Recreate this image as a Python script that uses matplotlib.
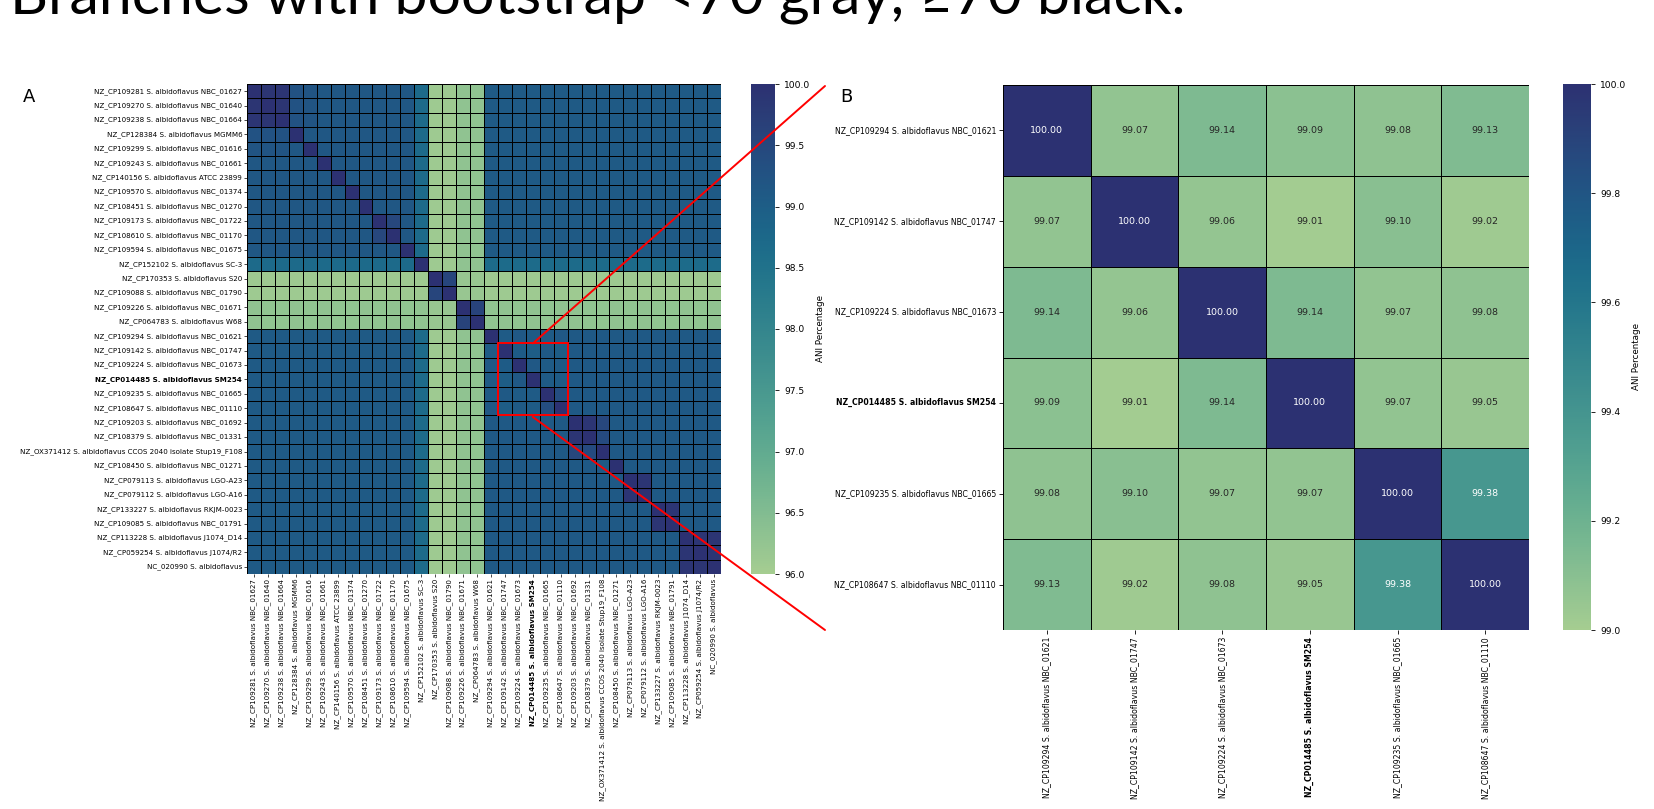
import numpy as np
import matplotlib
matplotlib.use("Agg")
import matplotlib.pyplot as plt
import seaborn as sns
from matplotlib.patches import Rectangle, ConnectionPatch

# strains in tree order (rows and columns of panel A)
strains = [
    "NZ_CP109281 S. albidoflavus NBC_01627",
    "NZ_CP109270 S. albidoflavus NBC_01640",
    "NZ_CP109238 S. albidoflavus NBC_01664",
    "NZ_CP128384 S. albidoflavus MGMM6",
    "NZ_CP109299 S. albidoflavus NBC_01616",
    "NZ_CP109243 S. albidoflavus NBC_01661",
    "NZ_CP140156 S. albidoflavus ATCC 23899",
    "NZ_CP109570 S. albidoflavus NBC_01374",
    "NZ_CP108451 S. albidoflavus NBC_01270",
    "NZ_CP109173 S. albidoflavus NBC_01722",
    "NZ_CP108610 S. albidoflavus NBC_01170",
    "NZ_CP109594 S. albidoflavus NBC_01675",
    "NZ_CP152102 S. albidoflavus SC-3",
    "NZ_CP170353 S. albidoflavus S20",
    "NZ_CP109088 S. albidoflavus NBC_01790",
    "NZ_CP109226 S. albidoflavus NBC_01671",
    "NZ_CP064783 S. albidoflavus W68",
    "NZ_CP109294 S. albidoflavus NBC_01621",
    "NZ_CP109142 S. albidoflavus NBC_01747",
    "NZ_CP109224 S. albidoflavus NBC_01673",
    "NZ_CP014485 S. albidoflavus SM254",
    "NZ_CP109235 S. albidoflavus NBC_01665",
    "NZ_CP108647 S. albidoflavus NBC_01110",
    "NZ_CP109203 S. albidoflavus NBC_01692",
    "NZ_CP108379 S. albidoflavus NBC_01331",
    "NZ_OX371412 S. albidoflavus CCOS 2040 isolate Stup19_F108",
    "NZ_CP108450 S. albidoflavus NBC_01271",
    "NZ_CP079113 S. albidoflavus LGO-A23",
    "NZ_CP079112 S. albidoflavus LGO-A16",
    "NZ_CP133227 S. albidoflavus RKJM-0023",
    "NZ_CP109085 S. albidoflavus NBC_01791",
    "NZ_CP113228 S. albidoflavus J1074_D14",
    "NZ_CP059254 S. albidoflavus J1074/R2",
    "NC_020990 S. albidoflavus",
]
reference = "NZ_CP014485 S. albidoflavus SM254"

# clade of every strain, same order
clades = ["A"] * 12 + ["C", "D", "D", "E", "E"] + ["B"] * 17

# typical ANI between / within clades
clade_ani = {
    ("A", "A"): 99.15, ("B", "B"): 99.10, ("C", "C"): 100.0,
    ("D", "D"): 99.55, ("E", "E"): 99.60,
    ("A", "B"): 99.08, ("A", "C"): 98.70, ("B", "C"): 98.68,
    ("A", "D"): 96.10, ("B", "D"): 96.10, ("C", "D"): 96.10,
    ("A", "E"): 96.30, ("B", "E"): 96.30, ("C", "E"): 96.30,
    ("D", "E"): 96.20,
}

# closely related pairs (row index, column index, ANI)
close_pairs = [
    (0, 1, 99.92), (0, 2, 99.90), (1, 2, 99.92),
    (3, 0, 99.25), (3, 1, 99.25), (3, 2, 99.25),
    (4, 0, 99.22), (4, 1, 99.22), (4, 2, 99.22),
    (9, 10, 99.50),
    (23, 24, 99.90), (23, 25, 99.50), (24, 25, 99.45),
    (27, 28, 99.90), (29, 30, 99.90),
    (31, 32, 99.90), (31, 33, 99.90), (32, 33, 99.90),
]

# zoomed block (panel B)
subset_start = 17
subset_ani = [
    [100.00, 99.07, 99.14, 99.09, 99.08, 99.13],
    [99.07, 100.00, 99.06, 99.01, 99.10, 99.02],
    [99.14, 99.06, 100.00, 99.14, 99.07, 99.08],
    [99.09, 99.01, 99.14, 100.00, 99.07, 99.05],
    [99.08, 99.10, 99.07, 99.07, 100.00, 99.38],
    [99.13, 99.02, 99.08, 99.05, 99.38, 100.00],
]

# assemble the full matrix
n = len(strains)
ani = np.zeros((n, n))
for i in range(n):
    for j in range(n):
        ani[i, j] = clade_ani[tuple(sorted((clades[i], clades[j])))]
for i, j, v in close_pairs:
    ani[i, j] = ani[j, i] = v
k = len(subset_ani)
ani[subset_start:subset_start + k, subset_start:subset_start + k] = subset_ani
np.fill_diagonal(ani, 100.0)
subset = strains[subset_start:subset_start + k]

W, H = 1654, 809
fig = plt.figure(figsize=(W / 100, H / 100), dpi=100)


def px_axes(x0, y0, x1, y1):
    return fig.add_axes([x0 / W, 1 - y1 / H, (x1 - x0) / W, (y1 - y0) / H])


axA = px_axes(247, 84, 721, 574)
caxA = px_axes(751, 84, 775, 574)
axB = px_axes(1003, 85, 1529, 630)
caxB = px_axes(1563, 84, 1591, 630)

sns.heatmap(ani, ax=axA, cbar_ax=caxA, cmap="crest", vmin=96, vmax=100,
            linewidths=0.7, linecolor="black",
            xticklabels=strains, yticklabels=strains,
            cbar_kws={"label": "ANI Percentage"})
axA.tick_params(labelsize=5.1, length=2, width=0.5, pad=1.5)
axA.set_xticklabels(strains, rotation=90)
axA.set_yticklabels(strains, rotation=0)

sns.heatmap(np.array(subset_ani), ax=axB, cbar_ax=caxB, cmap="crest",
            vmin=99, vmax=100, annot=True, fmt=".2f",
            annot_kws={"fontsize": 6.8},
            linewidths=0.6, linecolor="black",
            xticklabels=subset, yticklabels=subset,
            cbar_kws={"label": "ANI Percentage"})
axB.tick_params(labelsize=5.55, length=3, width=0.6, pad=2)
axB.set_xticklabels(subset, rotation=90)
axB.set_yticklabels(subset, rotation=0)

for ax in (axA, axB):
    for lab in ax.get_xticklabels() + ax.get_yticklabels():
        if lab.get_text() == reference:
            lab.set_fontweight("bold")

for cax in (caxA, caxB):
    cax.tick_params(labelsize=6.6, length=3, width=0.6)
    cax.yaxis.label.set_size(6.3)
caxB.set_yticks([99.0, 99.2, 99.4, 99.6, 99.8, 100.0])
caxB.set_yticklabels(["99.0", "99.2", "99.4", "99.6", "99.8", "100.0"])

# zoom box on panel A and connectors to panel B
axA.add_patch(Rectangle((18, 18), 5, 5, fill=False, edgecolor="red",
                        lw=1.4, zorder=5, clip_on=False))
for y_data, y_px in ((18, 86), (23.1, 630)):
    con = ConnectionPatch(xyA=(20.5, y_data), coordsA="data", axesA=axA,
                          xyB=(825 / W, 1 - y_px / H), coordsB="figure fraction",
                          color="red", lw=1.4, zorder=6)
    fig.add_artist(con)

fig.text(23 / W, 1 - 102 / H, "A", fontsize=13, va="baseline")
fig.text(840 / W, 1 - 102 / H, "B", fontsize=13, va="baseline")

title = fig.text(10 / W, 1 - 13 / H, "Branches with bootstrap <70 gray, \u226570 black.",
                 fontsize=36, va="baseline", family=["Lato", "DejaVu Sans"])
fig.canvas.draw()
w = title.get_window_extent().width
title.set_fontsize(36 * 1177 / w)

fig.savefig("out.png", dpi=100)
